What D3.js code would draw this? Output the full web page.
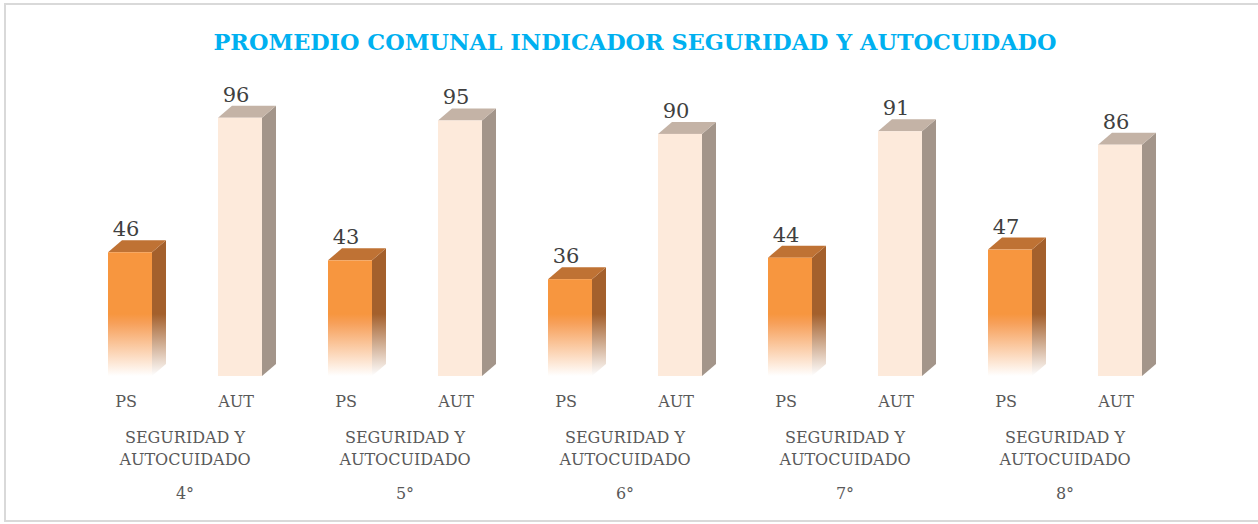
<!DOCTYPE html>
<meta charset="utf-8">
<style>
    body { margin: 0; background: #fff; }
    text { font-family: "DejaVu Serif", "Liberation Serif", serif; }
</style>
<body>
<script src="https://d3js.org/d3.v7.min.js"></script>
<script>
    // data
    var grades = ["4°", "5°", "6°", "7°", "8°"];
    var series = ["PS", "AUT"];
    var psValues = [46, 43, 36, 44, 47];
    var autValues = [96, 95, 90, 91, 86];
    var groupLabel = ["SEGURIDAD Y", "AUTOCUIDADO"];
    var title = "PROMEDIO COMUNAL INDICADOR SEGURIDAD Y AUTOCUIDADO";

    var width = 1258, height = 524;
    var margin = { left: 75, right: 83, baseline: 376 };

    var svg = d3.select("body").append("svg")
        .attr("width", width)
        .attr("height", height);

    // frame (right edge runs off the picture)
    svg.append("rect")
        .attr("x", 5).attr("y", 4)
        .attr("width", width + 4).attr("height", height - 7)
        .attr("fill", "none")
        .attr("stroke", "#d9d9d9")
        .attr("stroke-width", 2);

    svg.append("text")
        .attr("x", 635).attr("y", 50)
        .attr("text-anchor", "middle")
        .attr("fill", "#00b0f0")
        .style("font-weight", "bold")
        .style("font-size", "23px")
        .attr("textLength", 843)
        .attr("lengthAdjust", "spacingAndGlyphs")
        .text(title);

    var x0 = d3.scaleBand().domain(grades).range([margin.left, width - margin.right]);
    var x1 = d3.scaleBand().domain(series).range([0, x0.bandwidth()]);
    var y = d3.scaleLinear().domain([0, 100]).range([margin.baseline, 107]);

    var defs = svg.append("defs");
    var grad = defs.append("linearGradient")
        .attr("id", "psFade")
        .attr("gradientUnits", "userSpaceOnUse")
        .attr("x1", 0).attr("x2", 0)
        .attr("y1", margin.baseline - 62).attr("y2", margin.baseline);
    grad.append("stop").attr("offset", 0).attr("stop-color", "#f7963f");
    grad.append("stop").attr("offset", 0.15).attr("stop-color", "#f7a05a");
    grad.append("stop").attr("offset", 1).attr("stop-color", "#ffffff");

    var gradSide = defs.append("linearGradient")
        .attr("id", "psSideFade")
        .attr("gradientUnits", "userSpaceOnUse")
        .attr("x1", 0).attr("x2", 0)
        .attr("y1", margin.baseline - 62).attr("y2", margin.baseline);
    gradSide.append("stop").attr("offset", 0).attr("stop-color", "#a4602c");
    gradSide.append("stop").attr("offset", 1).attr("stop-color", "#ffffff");

    var styles = {
        PS: { front: "url(#psFade)", side: "url(#psSideFade)", top: "#bf7234" },
        AUT: { front: "#fdeadb", side: "#a3958a", top: "#c4b3a6" }
    };

    var rows = [];
    grades.forEach(function (g, i) {
        rows.push({ grade: g, key: "PS", value: psValues[i] });
        rows.push({ grade: g, key: "AUT", value: autValues[i] });
    });

    var barW = 44, dx = 14, dy = 12;

    var bars = svg.selectAll(".bar")
        .data(rows)
        .enter().append("g")
        .attr("class", "bar")
        .attr("transform", function (d) {
            var cx = x0(d.grade) + x1(d.key) + x1.bandwidth() / 2;
            return "translate(" + (cx - 22) + ",0)";
        });

    // side face
    bars.append("path")
        .attr("fill", function (d) { return styles[d.key].side; })
        .attr("d", function (d) {
            var t = y(d.value), b = margin.baseline;
            return "M" + barW + "," + t + "L" + (barW + dx) + "," + (t - dy) +
                "L" + (barW + dx) + "," + (b - dy) + "L" + barW + "," + b + "Z";
        });
    // top face
    bars.append("path")
        .attr("fill", function (d) { return styles[d.key].top; })
        .attr("d", function (d) {
            var t = y(d.value);
            return "M0," + t + "L" + dx + "," + (t - dy) + "L" + (barW + dx) + "," + (t - dy) +
                "L" + barW + "," + t + "Z";
        });
    // front face
    bars.append("rect")
        .attr("x", 0)
        .attr("y", function (d) { return y(d.value); })
        .attr("width", barW)
        .attr("height", function (d) { return margin.baseline - y(d.value); })
        .attr("fill", function (d) { return styles[d.key].front; });

    // value labels
    bars.append("text")
        .attr("x", 18)
        .attr("y", function (d) { return y(d.value) - 16; })
        .attr("text-anchor", "middle")
        .attr("fill", "#404040")
        .style("font-size", "21px")
        .text(function (d) { return d.value; });

    // series labels
    bars.append("text")
        .attr("x", 18)
        .attr("y", 407)
        .attr("text-anchor", "middle")
        .attr("fill", "#595959")
        .style("font-size", "16px")
        .text(function (d) { return d.key; });

    // group labels
    var groups = svg.selectAll(".grp")
        .data(grades)
        .enter().append("g")
        .attr("class", "grp")
        .attr("transform", function (d) {
            return "translate(" + (x0(d) + x0.bandwidth() / 2) + ",0)";
        });

    groupLabel.forEach(function (l, i) {
        groups.append("text")
            .attr("x", 0)
            .attr("y", 443 + i * 22)
            .attr("text-anchor", "middle")
            .attr("fill", "#595959")
            .style("font-size", "16px")
            .text(l);
    });

    groups.append("text")
        .attr("x", 0)
        .attr("y", 499)
        .attr("text-anchor", "middle")
        .attr("fill", "#595959")
        .style("font-size", "16px")
        .text(function (d) { return d; });
</script>
</body>
